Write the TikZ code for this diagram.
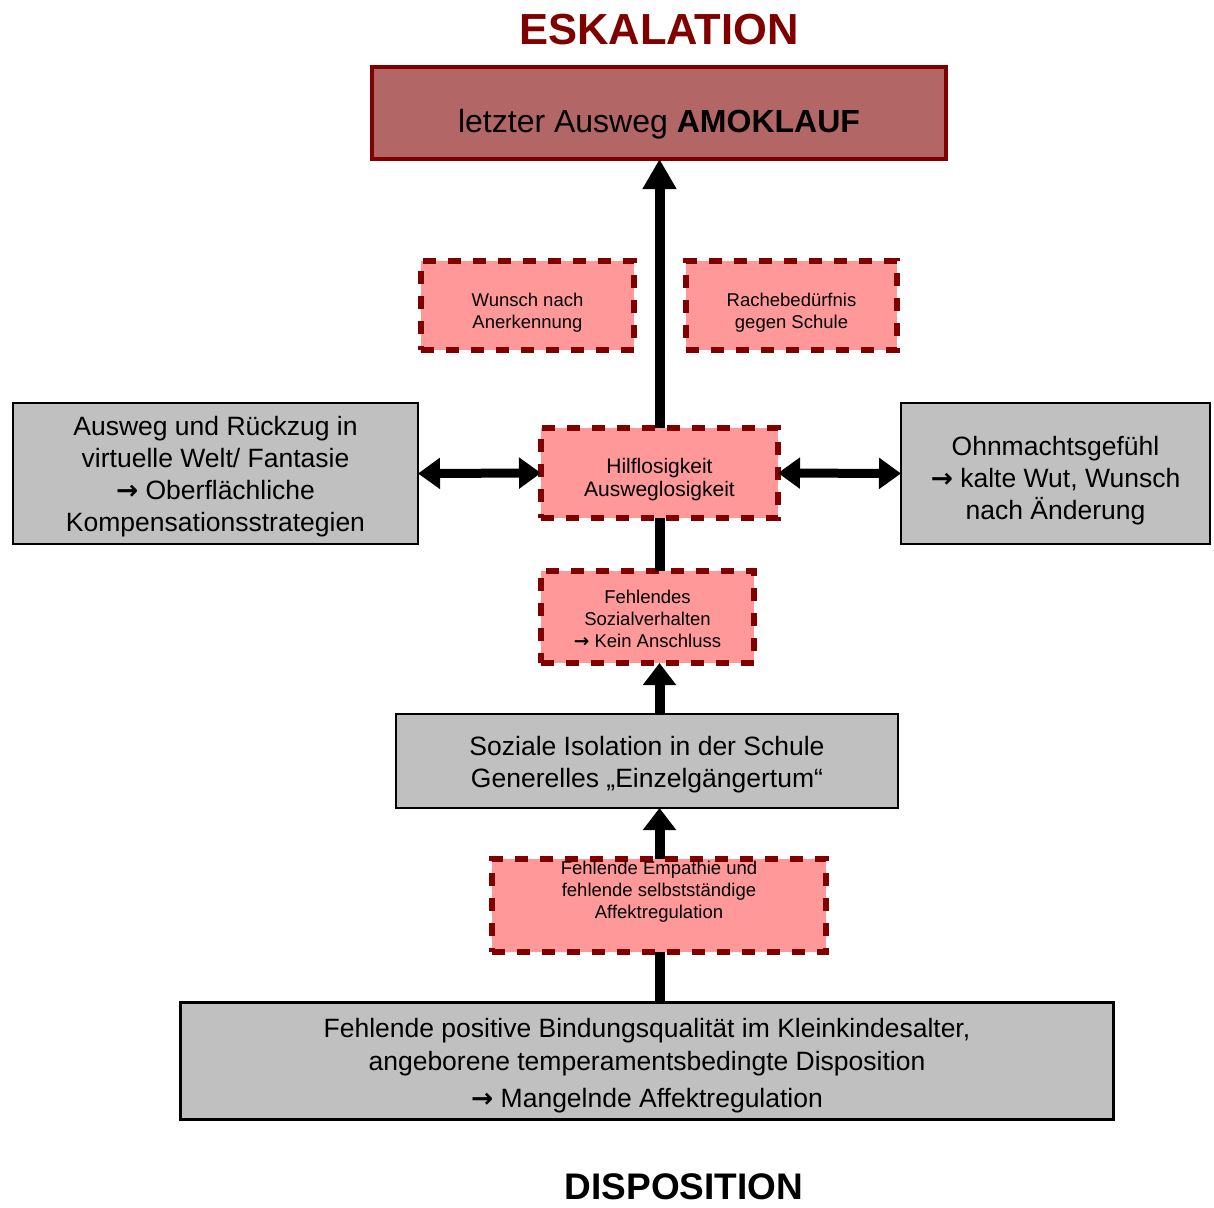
\documentclass[tikz,border=0pt]{standalone}
\usepackage{fontspec}
\setmainfont{Liberation Sans}
\newfontfamily\pfeilfont{DejaVu Sans}
\newcommand{\pfeil}{{\pfeilfont\bfseries →}}
\usetikzlibrary{arrows.meta}
\definecolor{dunkelrot}{RGB}{128,0,0}
\definecolor{altrosa}{RGB}{179,102,102}
\definecolor{hellrot}{RGB}{255,153,153}
\definecolor{hellgrau}{RGB}{192,192,192}
\tikzset{
  graubox/.style={draw=black, line width=2pt, fill=hellgrau, inner sep=0pt, outer sep=0pt},
  rotbox/.style={draw=dunkelrot, line width=6pt, dash pattern=on 13pt off 12pt, fill=hellrot,
    inner sep=0pt, outer sep=0pt},
  grautext/.style={inner sep=0pt, align=center, font=\fontsize{26.5}{32}\selectfont},
  rottext/.style={inner sep=0pt, align=center, font=\fontsize{18.5}{22}\selectfont},
  linie/.style={line width=10pt},
  pfeilgross/.style={line width=10pt, -{Triangle[width=32pt,length=30pt]}},
  pfeilklein/.style={line width=10pt, -{Triangle[width=32pt,length=22pt]}},
  doppelpfeil/.style={line width=9pt, {Triangle[width=30pt,length=22pt]}-{Triangle[width=30pt,length=22pt]}},
}
\begin{document}
\begin{tikzpicture}[x=1pt,y=-1pt]
  \useasboundingbox (0,0) rectangle (1214,1207);
  % Titel
  \node[inner sep=0pt, text=dunkelrot, font=\fontsize{43.5}{50}\selectfont\bfseries] (eskalation) at (659,30) {ESKALATION};
  \node[inner sep=0pt, font=\fontsize{37}{42}\selectfont\bfseries] (disposition) at (684,1187) {DISPOSITION};
  % Kaesten
  \node[draw=dunkelrot, line width=4pt, fill=altrosa, inner sep=0pt, outer sep=0pt,
    minimum width=574pt, minimum height=92pt] (amok) at (659,113) {};
  \node[inner sep=0pt, font=\fontsize{32}{38}\selectfont] (amokText) at (659,124) {letzter Ausweg \textbf{AMOKLAUF}};
  \node[rotbox, minimum width=213pt, minimum height=89pt] (wunsch) at (527.5,305.5) {};
  \node[rottext] (wunschText) at ([yshift=-7pt]wunsch.center) {Wunsch nach\\Anerkennung};
  \node[rotbox, minimum width=211pt, minimum height=89pt] (rache) at (791.5,305.5) {};
  \node[rottext] (racheText) at ([yshift=-7pt]rache.center) {Rachebedürfnis\\gegen Schule};
  \node[graubox, minimum width=405pt, minimum height=141pt] (ausweg) at (215.5,473.5) {};
  \node[grautext] (auswegText) at ([yshift=-3.5pt]ausweg.center)
    {Ausweg und Rückzug in\\virtuelle Welt/ Fantasie\\\pfeil{} Oberflächliche\\Kompensationsstrategien};
  \node[rotbox, minimum width=237pt, minimum height=90pt] (hilf) at (659.5,473) {};
  \node[rottext, font=\fontsize{21}{23}\selectfont] (hilfText) at ([yshift=-7pt]hilf.center)
    {Hilflosigkeit\\Ausweglosigkeit};
  \node[graubox, minimum width=309pt, minimum height=141pt] (ohn) at (1055.5,473.5) {};
  \node[grautext] (ohnText) at ([yshift=-7pt]ohn.center)
    {Ohnmachtsgefühl\\\pfeil{} kalte Wut, Wunsch\\nach Änderung};
  \node[rotbox, minimum width=213pt, minimum height=92pt] (fehl) at (647.5,617) {};
  \node[rottext] (fehlText) at ([yshift=-2pt]fehl.center)
    {Fehlendes\\Sozialverhalten\\\pfeil{} Kein Anschluss};
  \node[graubox, minimum width=502pt, minimum height=94pt] (soz) at (647,761) {};
  \node[grautext] (sozText) at ([yshift=-4pt]soz.center)
    {Soziale Isolation in der Schule\\Generelles „Einzelgängertum“};
  \node[rotbox, minimum width=334pt, minimum height=93pt] (emp) at (659,905.5) {};
  \node[rottext, anchor=north] (empText) at (659,861)
    {Fehlende Empathie und\\fehlende selbstständige\\Affektregulation};
  \node[graubox, line width=3pt, minimum width=933pt, minimum height=117pt] (bind) at (647,1061) {};
  \node[grautext, font=\fontsize{26.5}{33}\selectfont] (bindText) at ([yshift=-5pt]bind.center)
    {Fehlende positive Bindungsqualität im Kleinkindesalter,\\angeborene temperamentsbedingte Disposition\\[4pt]\pfeil{} Mangelnde Affektregulation};
  % Verbindungen
  \draw[pfeilgross] (hilf.north) -- (hilf.north |- amok.south);
  \draw[doppelpfeil] (ausweg.east) -- (hilf.west);
  \draw[doppelpfeil] (hilf.east) -- (ohn.west);
  \draw[linie] (hilf.south) -- (hilf.south |- fehl.north);
  \draw[pfeilklein] (hilf.south |- soz.north) -- (hilf.south |- fehl.south);
  \draw[pfeilklein] (hilf.south |- emp.north) -- (hilf.south |- soz.south);
  \draw[linie] (hilf.south |- bind.north) -- (hilf.south |- emp.south);
\end{tikzpicture}
\end{document}
